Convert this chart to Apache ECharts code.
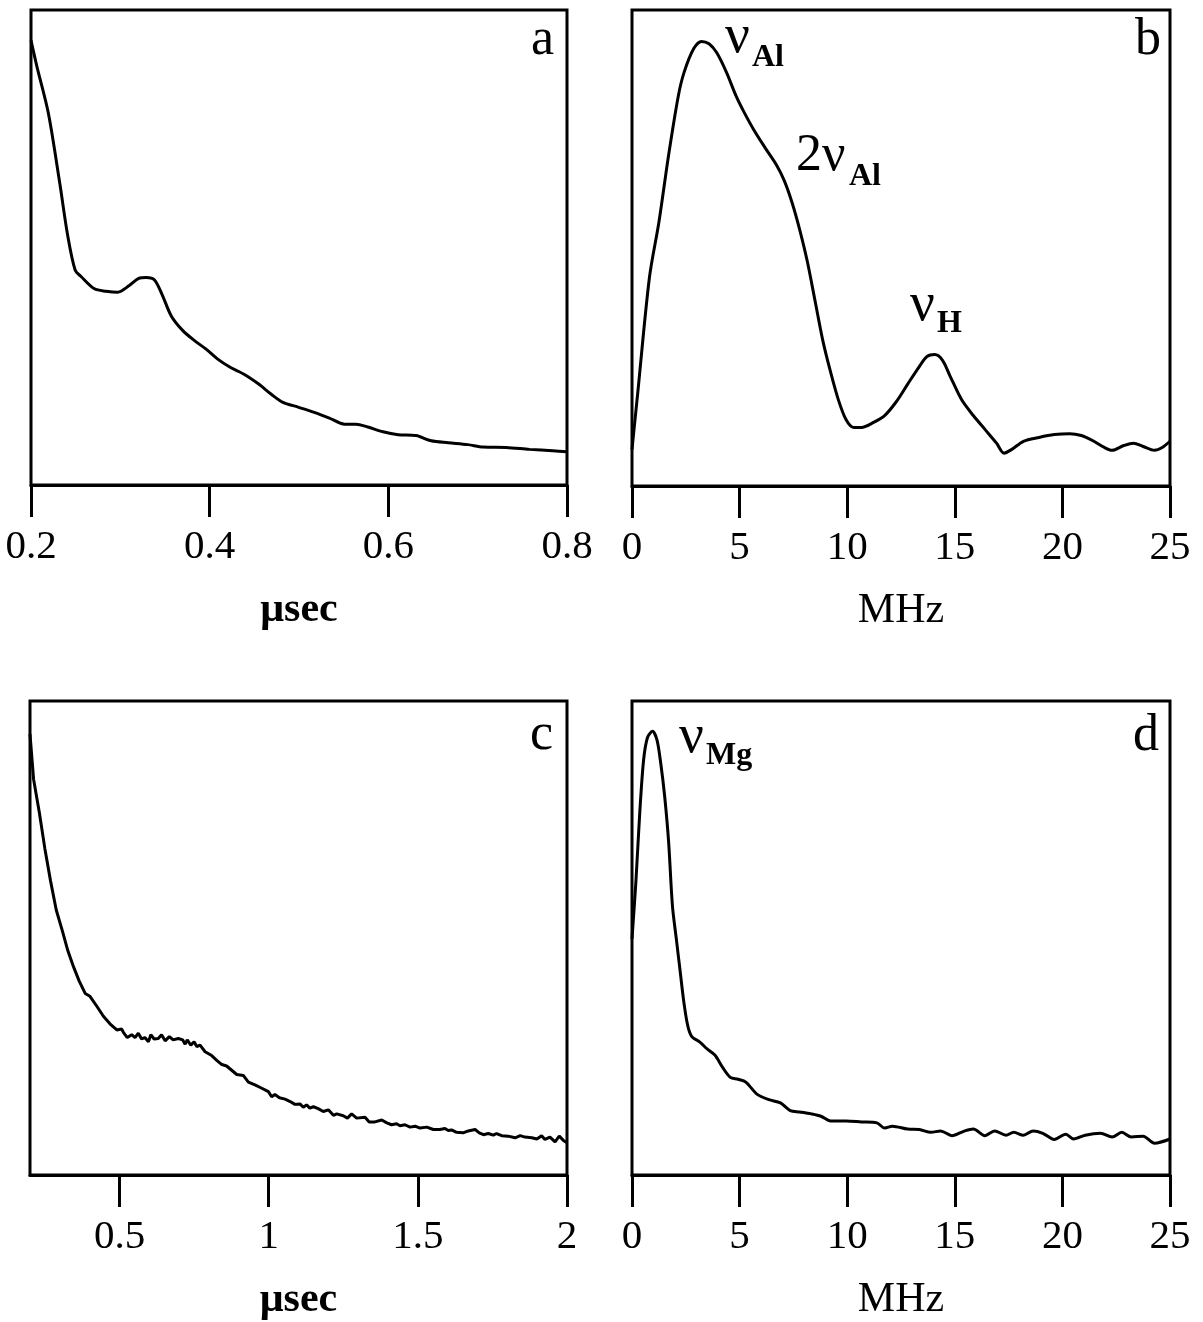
<!DOCTYPE html>
<html>
<head>
<meta charset="utf-8">
<script src="https://cdn.jsdelivr.net/npm/echarts@6/dist/echarts.min.js"></script>
<style>
html,body{margin:0;padding:0;background:#fff;}
#chart{width:1203px;height:1322px;}
</style>
</head>
<body>
<div id="chart"></div>
<script>
// Panel a: time domain (usec)
const aX = [0.2,0.2065,0.2194,0.2323,0.241,0.2495,0.256,0.271,0.284,0.297,0.310,0.3206,0.329,0.338,0.3465,0.357,0.370,0.383,0.396,0.409,0.422,0.4326,0.443,0.456,0.469,0.482,0.499,0.517,0.534,0.551,0.564,0.577,0.594,0.611,0.631,0.648,0.667,0.689,0.706,0.732,0.758,0.784,0.8];
const aY = [93.6,88.2,78.3,63.4,52.6,45.2,43.9,41.3,40.8,40.6,42.0,43.5,43.7,43.2,40.2,35.6,32.5,30.4,28.6,26.5,24.9,23.9,22.8,21.1,19.1,17.4,16.4,15.3,14.1,12.8,12.8,12.2,11.2,10.6,10.4,9.3,8.9,8.5,8.0,7.9,7.5,7.2,7.0];

// Panel b: spectrum (MHz)
const bX = [0,0.27,0.81,1.25,1.70,2.15,2.42,2.87,3.23,3.58,3.94,4.39,4.84,5.20,5.65,6.18,6.72,7.08,7.44,7.80,8.15,8.51,8.87,9.23,9.59,9.95,10.30,10.66,11.20,11.74,12.28,12.81,13.35,13.71,14.07,14.43,14.78,15.32,15.86,16.40,16.94,17.29,17.65,18.19,18.91,19.62,20.34,20.88,21.42,21.95,22.31,22.85,23.30,23.75,24.28,24.64,25];
const bY = [7.7,19.7,43.8,55.4,69.5,81.9,86.9,91.9,93.4,92.9,91.0,86.9,81.9,78.6,74.9,71.1,67.4,64.1,59.5,53.7,47.1,38.8,30.5,23.9,18.1,13.9,12.3,12.3,13.3,14.8,17.7,21.4,25.1,27.2,27.6,26.4,23.1,18.1,14.8,11.9,9.0,6.9,7.7,9.4,10.2,10.8,11.0,10.6,9.5,8.1,7.5,8.5,9.0,8.3,7.5,8.1,9.4];

// Panel c: time domain (usec)
const cX = [0.2,0.212,0.231,0.25,0.269,0.288,0.308,0.327,0.346,0.365,0.385,0.401,0.424,0.446,0.468,0.491,0.507,0.513,0.526,0.541,0.552,0.563,0.574,0.585,0.597,0.605,0.616,0.630,0.641,0.653,0.667,0.680,0.697,0.712,0.720,0.727,0.739,0.750,0.759,0.770,0.787,0.809,0.826,0.843,0.859,0.876,0.893,0.915,0.932,0.954,0.977,0.999,1.010,1.021,1.036,1.055,1.072,1.088,1.105,1.116,1.127,1.138,1.150,1.166,1.183,1.200,1.217,1.228,1.250,1.264,1.278,1.295,1.323,1.337,1.356,1.379,1.396,1.412,1.429,1.440,1.457,1.474,1.491,1.507,1.530,1.552,1.574,1.591,1.602,1.613,1.630,1.652,1.669,1.692,1.706,1.720,1.736,1.753,1.764,1.781,1.803,1.826,1.843,1.859,1.882,1.899,1.915,1.926,1.943,1.960,1.974,1.988,2.0];
const cY = [93,83.5,76.6,68.8,62.0,55.9,51.6,47.3,43.9,40.9,38.3,37.7,35.6,33.5,31.9,30.6,30.8,30.1,29.0,29.6,29.0,29.9,28.7,29.0,28.1,29.6,28.7,28.8,29.6,28.3,29.2,28.5,28.8,28.5,27.6,28.5,27.4,28.1,27.1,27.4,26.0,25.2,24.2,23.3,23.0,22.1,21.2,21.0,19.6,19.0,18.3,17.6,16.5,17.0,16.3,16.0,15.5,14.9,15.0,14.3,14.8,14.1,14.4,14.0,13.4,13.75,12.6,12.9,12.5,12.0,12.9,12.0,12.2,11.2,11.2,11.6,11.0,10.6,10.8,10.4,10.6,10.1,10.3,9.9,10.1,9.6,9.6,9.8,9.4,9.5,9.0,8.9,9.3,9.6,8.9,8.5,8.75,8.4,8.75,8.3,8.2,7.85,8.3,8.0,7.85,7.6,8.3,7.5,8.0,7.0,8.2,7.3,6.8];

// Panel d: spectrum (MHz)
const dX = [0,0.18,0.36,0.54,0.72,0.95,1.16,1.34,1.52,1.70,1.88,2.06,2.24,2.42,2.60,2.78,3.14,3.49,3.85,4.21,4.57,4.93,5.29,5.82,6.36,6.90,7.35,7.80,8.33,8.78,9.23,9.95,10.66,11.38,11.74,12.10,12.81,13.35,13.89,14.34,14.87,15.41,15.86,16.40,16.85,17.38,17.74,18.19,18.64,19.09,19.62,20.16,20.52,21.06,21.77,22.31,22.76,23.21,23.75,24.28,25];
const dY = [49.8,61.8,76.4,87.6,92.3,93.6,91.8,86.7,79.8,70.4,56.7,49.8,42.9,36.1,31.3,29.2,28.1,26.6,25.3,22.7,20.6,20.2,19.6,17.0,15.9,15.2,13.6,13.3,12.9,12.4,11.4,11.4,11.2,11.0,9.9,10.3,9.7,9.6,9.0,9.3,8.3,9.2,9.7,8.3,9.3,8.4,9.0,8.4,9.3,8.8,7.5,8.6,7.6,8.4,8.8,8.0,9.0,8.0,8.2,6.7,7.6];

// Tick values
const aTicks = [0.2, 0.4, 0.6, 0.8];
const bTicks = [0, 5, 10, 15, 20, 25];
const cTicks = [0.5, 1, 1.5, 2];
const dTicks = [0, 5, 10, 15, 20, 25];

const FONT = "'Liberation Serif','Times New Roman',serif";

function zip(xs, ys) {
  const n = Math.min(xs.length, ys.length);
  const out = [];
  for (let i = 0; i < n; i++) out.push([xs[i], ys[i]]);
  return out;
}

const grids = [
  {left: 31, top: 10, width: 536, height: 475},
  {left: 632, top: 10, width: 538, height: 476},
  {left: 30, top: 701, width: 537, height: 480},
  {left: 632, top: 701, width: 538, height: 480}
].map(g => Object.assign({show: true, borderColor: '#000', borderWidth: 3, backgroundColor: 'transparent', containLabel: false}, g));

function xAxis(idx, min, max, ticks, name, bold) {
  return {
    type: 'value', gridIndex: idx, min: min, max: max,
    name: name, nameLocation: 'middle', nameGap: 104,
    nameTextStyle: {fontFamily: FONT, fontSize: 42, color: '#000', fontWeight: bold ? 'bold' : 'normal'},
    axisLine: {show: true, lineStyle: {color: '#000', width: 3}},
    axisTick: {show: true, inside: false, length: 32, lineStyle: {color: '#000', width: 3}, customValues: ticks},
    axisLabel: {show: true, margin: 42, fontFamily: FONT, fontSize: 41, color: '#000', customValues: ticks,
      showMinLabel: true, showMaxLabel: true, hideOverlap: false},
    splitLine: {show: false}
  };
}
function yAxis(idx) {
  return {type: 'value', gridIndex: idx, min: 0, max: 100, show: false, splitLine: {show: false}};
}
function series(idx, data, smooth) {
  return {
    type: 'line', xAxisIndex: idx, yAxisIndex: idx, data: data,
    showSymbol: false, symbol: 'none', smooth: smooth, animation: false,
    lineStyle: {color: '#000', width: 3}, clip: true
  };
}

function txt(x, y, text, size, bold) {
  return {
    type: 'text', x: x, y: y, silent: true,
    style: {text: text, fontFamily: FONT, fontSize: size, fontWeight: bold ? 'bold' : 'normal',
      fill: '#000', align: 'left', verticalAlign: 'middle'}
  };
}

const chart = echarts.init(document.getElementById('chart'), null, {renderer: 'canvas'});
chart.setOption({
  animation: false,
  backgroundColor: '#fff',
  grid: grids,
  xAxis: [
    xAxis(0, 0.2, 0.8, aTicks, 'μsec', true),
    xAxis(1, 0, 25, bTicks, 'MHz', false),
    xAxis(2, 0.2, 2, cTicks, 'μsec', true),
    xAxis(3, 0, 25, dTicks, 'MHz', false)
  ],
  yAxis: [yAxis(0), yAxis(1), yAxis(2), yAxis(3)],
  series: [
    series(0, zip(aX, aY), 0.3),
    series(1, zip(bX, bY), 0.3),
    series(2, zip(cX, cY), false),
    series(3, zip(dX, dY), 0.3)
  ],
  graphic: [
    txt(531, 40, 'a', 52),
    txt(1135, 40, 'b', 52),
    txt(530, 735, 'c', 52),
    txt(1133, 736, 'd', 52),
    txt(725, 38, 'ν', 55),
    txt(752, 58, 'Al', 32, true),
    txt(796, 156, '2ν', 52),
    txt(849, 177, 'Al', 32, true),
    txt(910, 306, 'ν', 55),
    txt(937, 324, 'H', 32, true),
    txt(679, 738, 'ν', 55),
    txt(706, 756, 'Mg', 32, true)
  ]
});
</script>
</body>
</html>
